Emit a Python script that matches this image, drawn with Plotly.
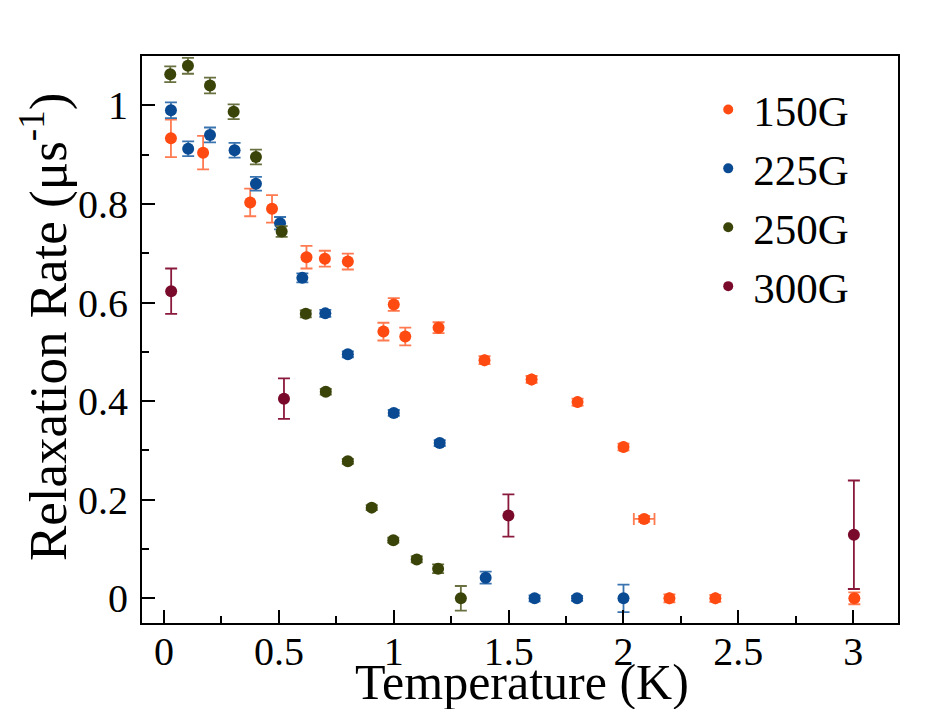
import plotly.graph_objects as go

# ---- data ----
t150 = [0.03, 0.17, 0.375, 0.47, 0.62, 0.70, 0.80, 0.955, 1.0, 1.05, 1.195, 1.395, 1.60, 1.80, 2.0, 2.09, 2.2, 2.4, 3.005]
r150 = [0.933, 0.904, 0.803, 0.790, 0.692, 0.689, 0.683, 0.541, 0.596, 0.531, 0.549, 0.483, 0.444, 0.398, 0.307, 0.161, 0.0, 0.0, 0.0]
e150 = [0.038, 0.034, 0.028, 0.028, 0.023, 0.016, 0.016, 0.018, 0.013, 0.018, 0.011, 0.008, 0.007, 0.007, 0.007, 0.006, 0.008, 0.007, 0.012]
xe150 = [0, 0, 0, 0, 0, 0, 0, 0, 0, 0, 0, 0, 0, 0, 0, 0.045, 0, 0, 0]

t225 = [0.03, 0.105, 0.20, 0.307, 0.40, 0.505, 0.602, 0.702, 0.80, 1.0, 1.20, 1.40, 1.613, 1.798, 2.0]
r225 = [0.990, 0.912, 0.940, 0.909, 0.841, 0.761, 0.650, 0.578, 0.495, 0.376, 0.315, 0.042, 0.0, 0.0, 0.0]
e225 = [0.016, 0.015, 0.015, 0.015, 0.014, 0.0125, 0.009, 0.007, 0.006, 0.006, 0.006, 0.012, 0.006, 0.005, 0.028]

t250 = [0.027, 0.104, 0.20, 0.303, 0.40, 0.512, 0.617, 0.704, 0.80, 0.904, 0.998, 1.10, 1.193, 1.292]
r250 = [1.063, 1.080, 1.040, 0.987, 0.895, 0.744, 0.577, 0.419, 0.278, 0.184, 0.118, 0.079, 0.060, 0.0]
e250 = [0.016, 0.016, 0.016, 0.015, 0.015, 0.011, 0.007, 0.006, 0.005, 0.005, 0.005, 0.006, 0.009, 0.025]

t300 = [0.031, 0.522, 1.499, 3.003]
r300 = [0.623, 0.405, 0.168, 0.129]
e300 = [0.046, 0.041, 0.043, 0.110]

x_ticks = [0, 0.5, 1, 1.5, 2, 2.5, 3]
x_labels = ["0", "0.5", "1", "1.5", "2", "2.5", "3"]
y_ticks = [0, 0.2, 0.4, 0.6, 0.8, 1.0]
y_labels = ["0", "0.2", "0.4", "0.6", "0.8", "1"]

series = [
    ("150G", t150, r150, e150, xe150, "#FF4A12", "#FF7A50"),
    ("225G", t225, r225, e225, None, "#0A4A92", "#3A74B0"),
    ("250G", t250, r250, e250, None, "#3A4409", "#6A7040"),
    ("300G", t300, r300, e300, None, "#7A0A2C", "#8A1A3C"),
]

FONT = "Liberation Serif"
fig = go.Figure()

for name, xs, ys, es, xes, col, ecol in series:
    tr = dict(
        x=xs, y=ys, mode="markers", name=name, showlegend=False,
        marker=dict(size=12, color=col),
        error_y=dict(type="data", array=es, visible=True, color=ecol, thickness=1.8, width=6),
    )
    if xes is not None:
        tr["error_x"] = dict(type="data", array=xes, visible=True, color=ecol, thickness=1.8, width=6)
    fig.add_trace(go.Scatter(**tr))

# legend entries
for name, xs, ys, es, xes, col, ecol in series:
    fig.add_trace(go.Scatter(
        x=[None], y=[None], mode="markers", name=name, legendgroup=name,
        marker=dict(size=10, color=col), showlegend=True,
    ))

axis_common = dict(
    showline=True, linecolor="black", linewidth=2, mirror=True,
    ticks="inside", ticklen=13, tickwidth=2, tickcolor="black",
    showgrid=False, zeroline=False, automargin=False,
    tickfont=dict(family=FONT, size=40, color="black"),
)

fig.update_xaxes(
    range=[-0.096, 3.195], tickmode="array", tickvals=x_ticks, ticktext=x_labels,
    minor=dict(dtick=0.25, tick0=0, ticks="inside", ticklen=7, tickwidth=2, tickcolor="black"),
    ticklabelstandoff=-8,
    **axis_common,
)
fig.update_yaxes(
    range=[-0.050, 1.100], tickmode="array", tickvals=y_ticks, ticktext=y_labels,
    minor=dict(dtick=0.1, tick0=0, ticks="inside", ticklen=7, tickwidth=2, tickcolor="black"),
    ticklabelstandoff=4,
    **axis_common,
)

fig.add_annotation(
    text="Temperature (K)", xref="paper", yref="paper",
    x=(522 - 142) / 755.7, y=(622.7 - 682) / 566.7,
    showarrow=False, xanchor="center", yanchor="middle",
    font=dict(family=FONT, size=50, color="black"),
)
fig.add_annotation(
    text="Relaxation Rate (μs<sup>-1</sup>)", xref="paper", yref="paper",
    x=(44 - 142) / 755.7, y=(622.7 - 327) / 566.7, textangle=-90,
    showarrow=False, xanchor="center", yanchor="middle",
    font=dict(family=FONT, size=53, color="black"),
)

fig.update_layout(
    width=946, height=709,
    margin=dict(l=142, r=48, t=56, b=86),
    paper_bgcolor="white", plot_bgcolor="white",
    showlegend=True,
    legend=dict(
        x=(703 - 142) / 755.7, y=(622.7 - 75) / 566.7, xanchor="left", yanchor="top",
        font=dict(family=FONT, size=43, color="black"),
        bgcolor="rgba(0,0,0,0)", tracegroupgap=0, itemwidth=40,
    ),
)

fig.write_html("out.html")
